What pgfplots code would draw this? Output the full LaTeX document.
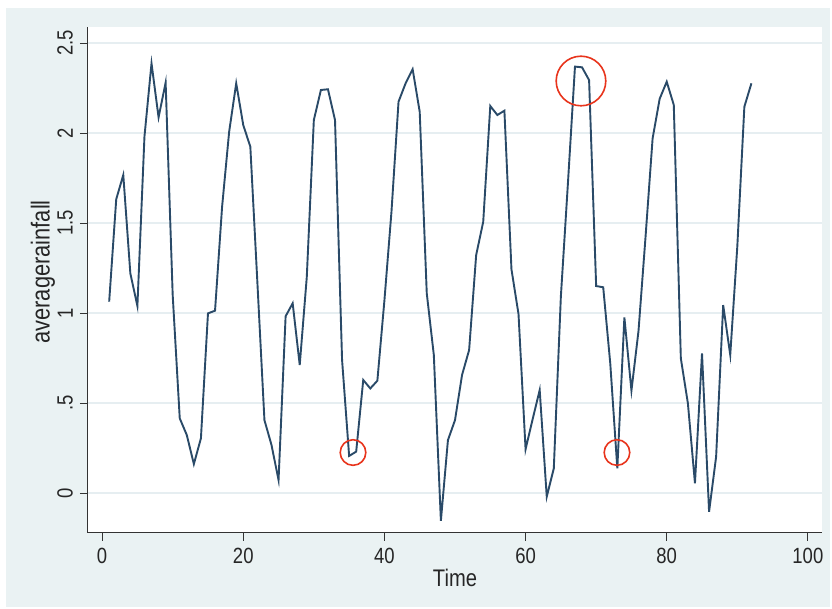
\documentclass[border=0pt]{standalone}
\usepackage{pgfplots}
\pgfplotsset{compat=1.18}
\usepackage{fontspec}
\setmainfont{Liberation Sans}[FakeStretch=0.84]
\definecolor{statabg}{HTML}{EAF2F3}
\definecolor{gridc}{HTML}{E6EEF1}
\definecolor{navy}{HTML}{2A4A68}
\definecolor{annot}{HTML}{E8341C}
\begin{document}
\begin{tikzpicture}
\useasboundingbox (-44pt,-38pt) rectangle (372pt,266.5pt);
\fill[white] (-44pt,-38pt) rectangle (372pt,266.5pt);
\fill[statabg] (-41pt,-37pt) rectangle (371pt,262.5pt);
\begin{axis}[
  at={(0,0)}, anchor=south west,
  scale only axis, width=367pt, height=253pt,
  xmin=-2, xmax=102, ymin=-0.222, ymax=2.589,
  axis x line*=bottom, axis y line*=left,
  axis line style={black!80, line width=0.5pt},
  axis background/.style={fill=white},
  xtick={0,20,...,100},
  ytick={0,0.5,1,1.5,2,2.5},
  yticklabels={0,.5,1,1.5,2,2.5},
  tick align=outside, major tick length=4pt,
  tick style={black!80, line width=0.5pt},
  /pgf/number format/assume math mode=true,
  ticklabel style={font=\fontsize{11}{11}\selectfont, text=black!85},
  yticklabel style={rotate=90, anchor=south},
  ymajorgrids, major grid style={draw=gridc, line width=0.6pt},
  xlabel={Time}, ylabel={averagerainfall},
  xlabel style={at={(axis description cs:0.5,-0.089)}, anchor=center, font=\fontsize{12}{12}\selectfont, text=black!85},
  ylabel style={at={(axis description cs:-0.0613,0.516)}, anchor=center, font=\fontsize{13}{13}\selectfont, text=black!85},
  clip=false,
]
\addplot[navy, line width=0.95pt] coordinates {
(1,1.063)(2,1.632)(3,1.767)(4,1.22)(5,1.039)(6,1.98)(7,2.387)(8,2.087)(9,2.28)(10,1.10)
(11,0.415)(12,0.322)(13,0.161)(14,0.304)(15,0.998)(16,1.013)(17,1.59)(18,2.007)(19,2.276)(20,2.044)
(21,1.924)(22,1.17)(23,0.405)(24,0.267)(25,0.072)(26,0.982)(27,1.054)(28,0.711)(29,1.2)(30,2.072)
(31,2.239)(32,2.243)(33,2.072)(34,0.739)(35,0.206)(36,0.23)(37,0.628)(38,0.581)(39,0.624)(40,1.07)
(41,1.563)(42,2.174)(43,2.276)(44,2.354)(45,2.118)(46,1.109)(47,0.767)(48,-0.154)(49,0.294)(50,0.405)
(51,0.656)(52,0.794)(53,1.322)(54,1.507)(55,2.15)(56,2.10)(57,2.124)(58,1.243)(59,0.994)(60,0.243)
(61,0.41)(62,0.572)(63,-0.02)(64,0.137)(65,1.091)(66,1.72)(67,2.369)(68,2.365)(69,2.294)(70,1.15)
(71,1.143)(72,0.72)(73,0.137)(74,0.976)(75,0.569)(76,0.9)(77,1.424)(78,1.97)(79,2.19)(80,2.285)
(81,2.156)(82,0.748)(83,0.498)(84,0.054)(85,0.776)(86,-0.104)(87,0.202)(88,1.044)(89,0.767)(90,1.369)
(91,2.146)(92,2.276)
};
\addplot[only marks, mark=o, mark size=6.4pt, mark options={draw=annot, line width=0.8pt, fill=none}] coordinates {(35.55,0.225)(72.95,0.225)};
\addplot[only marks, mark=o, mark size=12.4pt, mark options={draw=annot, line width=0.8pt, fill=none}] coordinates {(67.85,2.289)};
\end{axis}
\end{tikzpicture}
\end{document}
